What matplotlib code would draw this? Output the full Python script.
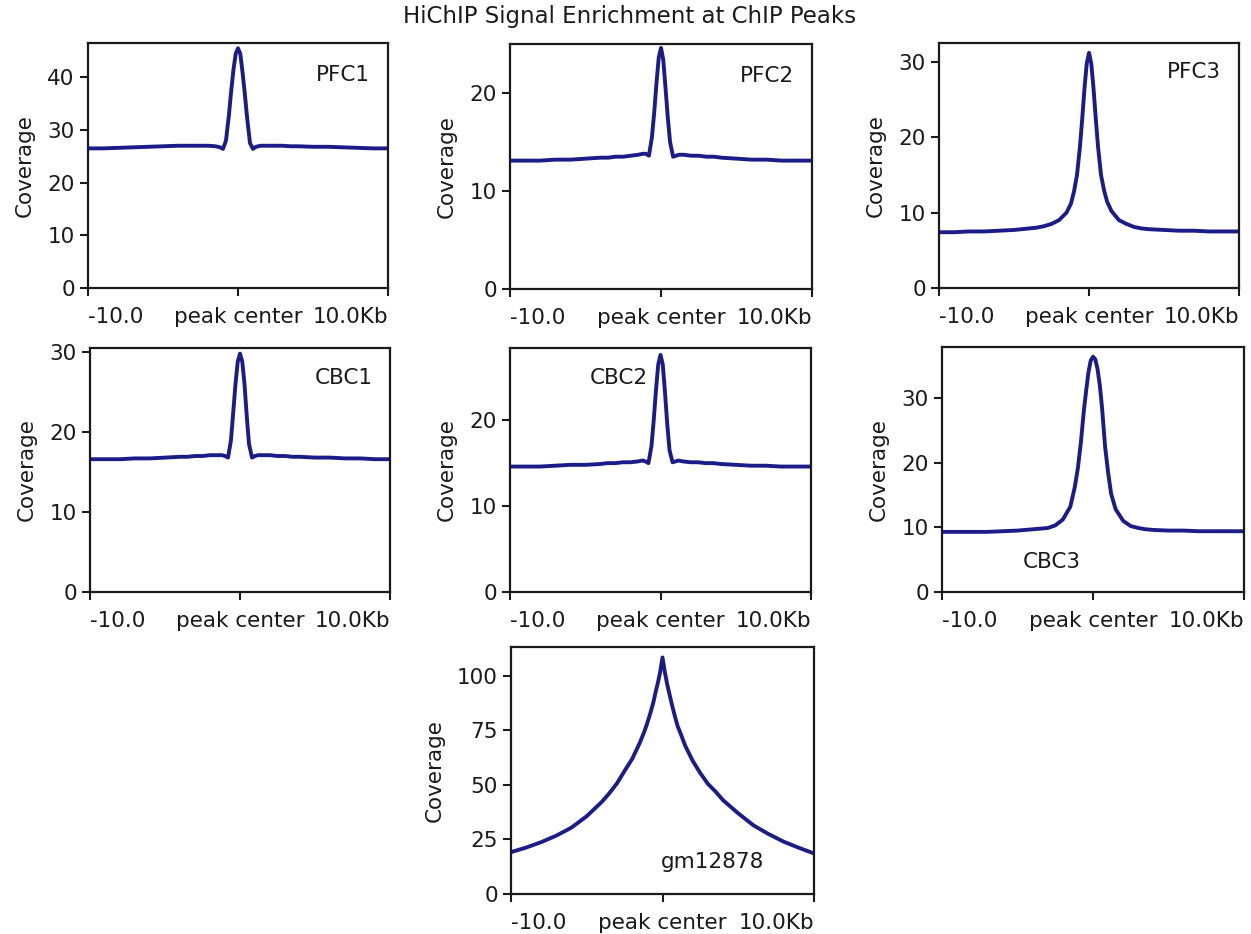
import matplotlib
matplotlib.use("Agg")
import matplotlib.pyplot as plt

# Distance from peak center (kb)
x_kb = [-10, -9, -8, -7, -6, -5, -4, -3.5, -3, -2.5, -2, -1.5, -1.2, -1.0, -0.8, -0.6,
        -0.45, -0.3, -0.15, 0, 0.15, 0.3, 0.45, 0.6, 0.8, 1.0, 1.2, 1.5, 2, 2.5, 3, 3.5,
        4, 5, 6, 7, 8, 9, 10]

pfc1 = [26.5, 26.5, 26.6, 26.7, 26.8, 26.9, 27.0, 27.0, 27.0, 27.0, 27.0, 26.9, 26.7, 26.4,
        28.0, 33.0, 37.5, 41.5, 44.5, 45.5, 44.5, 41.0, 37.0, 32.5, 27.5, 26.4, 26.8, 27.0,
        27.0, 27.0, 27.0, 26.9, 26.9, 26.8, 26.8, 26.7, 26.6, 26.5, 26.5]
pfc2 = [13.1, 13.1, 13.1, 13.2, 13.2, 13.3, 13.4, 13.4, 13.5, 13.5, 13.6, 13.7, 13.8, 13.8,
        13.6, 15.5, 18.0, 21.0, 23.6, 24.6, 23.4, 20.5, 17.5, 15.0, 13.5, 13.6, 13.7, 13.7,
        13.6, 13.6, 13.5, 13.5, 13.4, 13.3, 13.2, 13.2, 13.1, 13.1, 13.1]
pfc3 = [7.4, 7.4, 7.5, 7.5, 7.6, 7.7, 7.9, 8.0, 8.2, 8.5, 9.0, 10.0, 11.2, 12.8,
        15.0, 18.8, 22.5, 26.5, 29.8, 31.2, 29.8, 26.5, 22.5, 18.8, 15.0, 13.0, 11.5, 10.2,
        9.0, 8.5, 8.1, 7.9, 7.8, 7.7, 7.6, 7.6, 7.5, 7.5, 7.5]
cbc1 = [16.6, 16.6, 16.6, 16.7, 16.7, 16.8, 16.9, 16.9, 17.0, 17.0, 17.1, 17.1, 17.1, 17.0,
        16.8, 19.0, 22.5, 26.0, 28.8, 29.8, 28.8, 26.0, 22.0, 18.5, 16.8, 17.0, 17.1, 17.1,
        17.1, 17.0, 17.0, 16.9, 16.9, 16.8, 16.8, 16.7, 16.7, 16.6, 16.6]
cbc2 = [14.6, 14.6, 14.6, 14.7, 14.8, 14.8, 14.9, 15.0, 15.0, 15.1, 15.1, 15.2, 15.3, 15.2,
        15.0, 17.0, 20.0, 23.5, 26.5, 27.6, 26.5, 23.2, 19.5, 16.5, 15.1, 15.2, 15.3, 15.2,
        15.1, 15.1, 15.0, 15.0, 14.9, 14.8, 14.7, 14.7, 14.6, 14.6, 14.6]
cbc3 = [9.3, 9.3, 9.3, 9.3, 9.4, 9.5, 9.7, 9.8, 9.9, 10.3, 11.2, 13.2, 16.3, 19.2,
        23.2, 28.2, 31.2, 34.0, 35.8, 36.4, 36.0, 34.5, 32.0, 28.5, 22.5, 18.5, 15.2, 12.8,
        11.0, 10.2, 9.9, 9.7, 9.6, 9.5, 9.5, 9.4, 9.4, 9.4, 9.4]
gm12878 = [19.2, 21.3, 23.8, 26.8, 30.5, 35.7, 42.3, 46.3, 50.8, 56.5, 62.0, 69.3, 74.5, 78.5,
           83.0, 88.0, 92.8, 97.0, 102.0, 108.5, 102.0, 96.5, 92.0, 87.5, 82.0, 77.0, 73.5, 68.0,
           61.0, 55.4, 50.5, 47.0, 43.0, 37.0, 31.5, 27.5, 24.0, 21.2, 18.6]

sample_names = ["PFC1", "PFC2", "PFC3", "CBC1", "CBC2", "CBC3", "gm12878"]
sample_values = [pfc1, pfc2, pfc3, cbc1, cbc2, cbc3, gm12878]
y_max = [46.5, 25.0, 32.5, 30.5, 28.4, 37.9, 113.3]
y_ticks = [[0, 10, 20, 30, 40], [0, 10, 20], [0, 10, 20, 30], [0, 10, 20, 30],
           [0, 10, 20], [0, 10, 20, 30], [0, 25, 50, 75, 100]]
x_tick_pos = [-10, 0, 10]
x_tick_labels = ["-10.0", "peak center", "10.0Kb"]
title = "HiChIP Signal Enrichment at ChIP Peaks"

# Layout (pixel boxes: left, top, right, bottom)
W, H = 1251, 934
boxes = [(88, 43, 388, 288), (510, 44, 812, 289), (939, 43, 1239, 288),
         (90, 348, 390, 592), (510, 348, 811, 592), (942, 347, 1244, 592),
         (511, 647, 814, 894)]
label_pos = [(0.76, 0.87), (0.76, 0.87), (0.76, 0.88), (0.75, 0.877),
             (0.266, 0.877), (0.268, 0.122), (0.495, 0.13)]

line_color = "#1c1c88"
text_color = "#1a1a1a"
fs = 15.5

fig = plt.figure(figsize=(W / 100, H / 100), dpi=100)
for i, name in enumerate(sample_names):
    l, t, r, b = boxes[i]
    ax = fig.add_axes([l / W, 1 - b / H, (r - l) / W, (b - t) / H])
    ax.plot(x_kb, sample_values[i], color=line_color, lw=2.8, solid_joinstyle="round")
    ax.set_xlim(-10, 10)
    ax.set_ylim(0, y_max[i])
    ax.set_yticks(y_ticks[i])
    ax.set_xticks(x_tick_pos)
    labs = ax.set_xticklabels(x_tick_labels)
    labs[0].set_ha("left")
    labs[2].set_ha("right")
    ax.tick_params(labelsize=fs, width=1.5, length=6, colors=text_color)
    ax.tick_params(axis="x", pad=7.5)
    for s in ax.spines.values():
        s.set_linewidth(1.6)
        s.set_color(text_color)
    ax.set_ylabel("Coverage", fontsize=fs, labelpad=9, color=text_color)
    ax.text(label_pos[i][0], label_pos[i][1], name, transform=ax.transAxes,
            fontsize=fs, ha="left", va="center", color=text_color)

fig.text(630 / W, 1 - 17 / H, title, ha="center", va="center", fontsize=16.5, color=text_color)
fig.savefig("out.png", dpi=100)
